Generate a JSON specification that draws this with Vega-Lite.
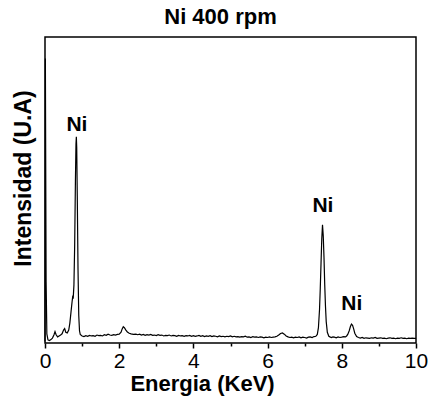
{
  "$schema": "https://vega.github.io/schema/vega-lite/v6.json",
  "width": 371,
  "height": 306,
  "autosize": {"type": "none"},
  "padding": {"left": 45, "top": 37, "right": 15, "bottom": 59},
  "background": "white",
  "title": {"text": "Ni 400 rpm", "font": "Liberation Sans", "fontSize": 22, "fontWeight": "bold", "color": "black", "anchor": "middle", "dx": -10, "offset": 8},
  "config": {"view": {"stroke": "black", "strokeWidth": 1.5}},
  "datasets": {
    "spectrum": [
      {"e": 0.0, "i": 0.5}, {"e": 0.01, "i": 93}, {"e": 0.03, "i": 20}, {"e": 0.05, "i": 3}, {"e": 0.08, "i": 1.0},
      {"e": 0.12, "i": 0.8}, {"e": 0.16, "i": 1.1}, {"e": 0.2, "i": 1.6}, {"e": 0.24, "i": 2.6}, {"e": 0.27, "i": 3.7},
      {"e": 0.3, "i": 2.7}, {"e": 0.34, "i": 2.0}, {"e": 0.38, "i": 2.3}, {"e": 0.42, "i": 2.6}, {"e": 0.46, "i": 3.0},
      {"e": 0.5, "i": 4.2}, {"e": 0.53, "i": 4.7}, {"e": 0.56, "i": 3.5}, {"e": 0.6, "i": 3.3}, {"e": 0.64, "i": 4.2},
      {"e": 0.67, "i": 6.5}, {"e": 0.7, "i": 10}, {"e": 0.73, "i": 13.5}, {"e": 0.75, "i": 15.5}, {"e": 0.76, "i": 14.5},
      {"e": 0.78, "i": 19}, {"e": 0.8, "i": 32}, {"e": 0.82, "i": 53}, {"e": 0.835, "i": 65}, {"e": 0.845, "i": 67.4},
      {"e": 0.855, "i": 64}, {"e": 0.87, "i": 48}, {"e": 0.89, "i": 24}, {"e": 0.91, "i": 9}, {"e": 0.93, "i": 4},
      {"e": 0.95, "i": 2.8}, {"e": 1.0, "i": 2.3}, {"e": 1.05, "i": 2.1}, {"e": 1.1, "i": 2.4}, {"e": 1.15, "i": 2.2},
      {"e": 1.2, "i": 2.5}, {"e": 1.25, "i": 2.3}, {"e": 1.3, "i": 2.4}, {"e": 1.35, "i": 2.2}, {"e": 1.4, "i": 2.6},
      {"e": 1.45, "i": 2.4}, {"e": 1.5, "i": 2.5}, {"e": 1.55, "i": 2.3}, {"e": 1.6, "i": 2.7}, {"e": 1.65, "i": 2.5},
      {"e": 1.7, "i": 2.9}, {"e": 1.75, "i": 2.6}, {"e": 1.8, "i": 2.5}, {"e": 1.85, "i": 2.7}, {"e": 1.9, "i": 2.6},
      {"e": 1.95, "i": 2.8}, {"e": 2.0, "i": 2.9}, {"e": 2.05, "i": 3.5}, {"e": 2.08, "i": 4.6}, {"e": 2.11, "i": 5.3},
      {"e": 2.14, "i": 5.0}, {"e": 2.18, "i": 4.2}, {"e": 2.22, "i": 3.6}, {"e": 2.27, "i": 3.2}, {"e": 2.32, "i": 3.0},
      {"e": 2.38, "i": 2.8}, {"e": 2.45, "i": 2.9}, {"e": 2.5, "i": 2.7}, {"e": 2.55, "i": 2.9}, {"e": 2.6, "i": 2.6},
      {"e": 2.65, "i": 2.8}, {"e": 2.7, "i": 2.5}, {"e": 2.75, "i": 2.7}, {"e": 2.8, "i": 2.6}, {"e": 2.85, "i": 2.8},
      {"e": 2.9, "i": 2.5}, {"e": 2.95, "i": 2.6}, {"e": 3.0, "i": 2.4}, {"e": 3.05, "i": 2.7}, {"e": 3.1, "i": 2.5},
      {"e": 3.15, "i": 2.6}, {"e": 3.2, "i": 2.3}, {"e": 3.25, "i": 2.5}, {"e": 3.3, "i": 2.4}, {"e": 3.35, "i": 2.6},
      {"e": 3.4, "i": 2.3}, {"e": 3.45, "i": 2.5}, {"e": 3.5, "i": 2.4}, {"e": 3.55, "i": 2.2}, {"e": 3.6, "i": 2.5},
      {"e": 3.65, "i": 2.3}, {"e": 3.7, "i": 2.4}, {"e": 3.75, "i": 2.2}, {"e": 3.8, "i": 2.4}, {"e": 3.85, "i": 2.3},
      {"e": 3.9, "i": 2.5}, {"e": 3.95, "i": 2.2}, {"e": 4.0, "i": 2.4}, {"e": 4.05, "i": 2.2}, {"e": 4.1, "i": 2.3},
      {"e": 4.15, "i": 2.5}, {"e": 4.2, "i": 2.2}, {"e": 4.25, "i": 2.4}, {"e": 4.3, "i": 2.1}, {"e": 4.35, "i": 2.3},
      {"e": 4.4, "i": 2.2}, {"e": 4.45, "i": 2.4}, {"e": 4.5, "i": 2.1}, {"e": 4.55, "i": 2.3}, {"e": 4.6, "i": 2.2},
      {"e": 4.65, "i": 2.0}, {"e": 4.7, "i": 2.3}, {"e": 4.75, "i": 2.1}, {"e": 4.8, "i": 2.2}, {"e": 4.85, "i": 2.0},
      {"e": 4.9, "i": 2.2}, {"e": 4.95, "i": 2.1}, {"e": 5.0, "i": 2.3}, {"e": 5.05, "i": 2.0}, {"e": 5.1, "i": 2.2},
      {"e": 5.15, "i": 2.0}, {"e": 5.2, "i": 2.1}, {"e": 5.25, "i": 1.9}, {"e": 5.3, "i": 2.1}, {"e": 5.35, "i": 2.0},
      {"e": 5.4, "i": 2.2}, {"e": 5.45, "i": 1.9}, {"e": 5.5, "i": 2.0}, {"e": 5.55, "i": 1.8}, {"e": 5.6, "i": 2.1},
      {"e": 5.65, "i": 1.9}, {"e": 5.7, "i": 2.0}, {"e": 5.75, "i": 1.8}, {"e": 5.8, "i": 2.0}, {"e": 5.85, "i": 1.9},
      {"e": 5.9, "i": 1.7}, {"e": 5.95, "i": 1.9}, {"e": 6.0, "i": 1.8}, {"e": 6.05, "i": 2.0}, {"e": 6.1, "i": 1.8},
      {"e": 6.15, "i": 1.9}, {"e": 6.2, "i": 2.0}, {"e": 6.25, "i": 2.2}, {"e": 6.3, "i": 2.6}, {"e": 6.35, "i": 3.1},
      {"e": 6.4, "i": 3.3}, {"e": 6.45, "i": 2.9}, {"e": 6.5, "i": 2.3}, {"e": 6.55, "i": 2.0}, {"e": 6.6, "i": 1.8},
      {"e": 6.65, "i": 1.9}, {"e": 6.7, "i": 1.7}, {"e": 6.75, "i": 1.9}, {"e": 6.8, "i": 1.8}, {"e": 6.85, "i": 2.0},
      {"e": 6.9, "i": 1.7}, {"e": 6.95, "i": 1.9}, {"e": 7.0, "i": 1.8}, {"e": 7.05, "i": 1.6}, {"e": 7.1, "i": 1.9},
      {"e": 7.15, "i": 2.0}, {"e": 7.2, "i": 1.8}, {"e": 7.25, "i": 2.1}, {"e": 7.3, "i": 2.2}, {"e": 7.34, "i": 2.8},
      {"e": 7.37, "i": 5}, {"e": 7.4, "i": 11}, {"e": 7.42, "i": 18}, {"e": 7.44, "i": 26}, {"e": 7.46, "i": 34},
      {"e": 7.48, "i": 38.6}, {"e": 7.5, "i": 35}, {"e": 7.52, "i": 28}, {"e": 7.54, "i": 19}, {"e": 7.56, "i": 12},
      {"e": 7.58, "i": 7}, {"e": 7.61, "i": 3.5}, {"e": 7.65, "i": 2.2}, {"e": 7.68, "i": 2.0}, {"e": 7.72, "i": 1.8},
      {"e": 7.76, "i": 2.0}, {"e": 7.8, "i": 1.9}, {"e": 7.85, "i": 1.7}, {"e": 7.9, "i": 2.0}, {"e": 7.95, "i": 1.8},
      {"e": 8.0, "i": 1.9}, {"e": 8.05, "i": 2.1}, {"e": 8.1, "i": 2.0}, {"e": 8.13, "i": 2.3}, {"e": 8.16, "i": 2.8},
      {"e": 8.2, "i": 4.0}, {"e": 8.23, "i": 5.3}, {"e": 8.26, "i": 6.2}, {"e": 8.29, "i": 5.8}, {"e": 8.32, "i": 4.6},
      {"e": 8.35, "i": 3.2}, {"e": 8.4, "i": 2.1}, {"e": 8.45, "i": 1.8}, {"e": 8.5, "i": 1.6}, {"e": 8.55, "i": 1.8},
      {"e": 8.6, "i": 1.5}, {"e": 8.65, "i": 1.7}, {"e": 8.7, "i": 1.6}, {"e": 8.75, "i": 1.5}, {"e": 8.8, "i": 1.7},
      {"e": 8.85, "i": 1.6}, {"e": 8.9, "i": 1.8}, {"e": 8.95, "i": 1.5}, {"e": 9.0, "i": 1.6}, {"e": 9.05, "i": 1.7},
      {"e": 9.1, "i": 1.5}, {"e": 9.15, "i": 1.6}, {"e": 9.2, "i": 1.4}, {"e": 9.25, "i": 1.6}, {"e": 9.3, "i": 1.7},
      {"e": 9.35, "i": 1.5}, {"e": 9.4, "i": 1.6}, {"e": 9.45, "i": 1.4}, {"e": 9.5, "i": 1.6}, {"e": 9.55, "i": 1.5},
      {"e": 9.6, "i": 1.7}, {"e": 9.65, "i": 1.5}, {"e": 9.7, "i": 1.6}, {"e": 9.75, "i": 1.4}, {"e": 9.8, "i": 1.6},
      {"e": 9.85, "i": 1.5}, {"e": 9.9, "i": 1.6}, {"e": 9.95, "i": 1.5}, {"e": 10.0, "i": 1.5}
    ],
    "labels": [
      {"e": 0.86, "i": 69.3, "label": "Ni"},
      {"e": 7.49, "i": 42.8, "label": "Ni"},
      {"e": 8.27, "i": 10.8, "label": "Ni"}
    ]
  },
  "encoding": {
    "x": {
      "field": "e", "type": "quantitative",
      "scale": {"domain": [0, 10], "nice": false},
      "axis": {
        "title": "Energia (KeV)",
        "values": [0, 1, 2, 3, 4, 5, 6, 7, 8, 9, 10],
        "labelExpr": "datum.value % 2 ? '' : datum.label",
        "labelFlush": false,
        "labelOverlap": false,
        "domain": false,
        "grid": false,
        "tickColor": "black",
        "tickWidth": 1.5,
        "tickSize": {"condition": {"test": "datum.value % 2 === 0", "value": 5}, "value": 3},
        "labelFont": "Liberation Sans", "labelFontSize": 21, "labelColor": "black", "labelPadding": 2,
        "titleFont": "Liberation Sans", "titleFontSize": 22, "titleFontWeight": "bold", "titleColor": "black",
        "titleX": 157, "titlePadding": 2
      }
    },
    "y": {
      "field": "i", "type": "quantitative",
      "scale": {"domain": [0, 100], "nice": false},
      "axis": {
        "title": "Intensidad (U.A)",
        "labels": false, "ticks": false, "domain": false, "grid": false,
        "titleFont": "Liberation Sans", "titleFontSize": 23, "titleFontWeight": "bold", "titleColor": "black",
        "titlePadding": 10, "titleY": 141
      }
    }
  },
  "layer": [
    {
      "data": {"name": "spectrum"},
      "mark": {"type": "line", "color": "black", "strokeWidth": 1.2, "interpolate": "linear"}
    },
    {
      "data": {"name": "labels"},
      "mark": {"type": "text", "font": "Liberation Sans", "fontSize": 21, "fontWeight": "bold", "color": "black", "align": "center", "baseline": "alphabetic"},
      "encoding": {"text": {"field": "label"}}
    }
  ]
}
